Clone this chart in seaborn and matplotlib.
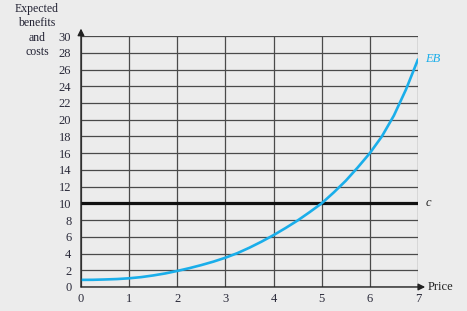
import numpy as np
import pandas as pd
import seaborn as sns
import matplotlib
matplotlib.use("Agg")
import matplotlib.pyplot as plt

# Data
price = [0, 0.25, 0.5, 0.75, 1, 1.25, 1.5, 1.75, 2, 2.25, 2.5, 2.75, 3, 3.25, 3.5,
         3.75, 4, 4.25, 4.5, 4.75, 5, 5.25, 5.5, 5.75, 6, 6.25, 6.5, 6.75, 7]
eb = [0.85, 0.86, 0.9, 0.95, 1.04, 1.18, 1.38, 1.62, 1.92, 2.25, 2.62, 3.03, 3.5, 4.05, 4.7,
      5.42, 6.2, 7.05, 7.95, 8.95, 10.0, 11.3, 12.7, 14.3, 16.0, 18.0, 20.5, 23.6, 27.2]
cost = 10
x_ticks = [0, 1, 2, 3, 4, 5, 6, 7]
y_ticks = list(range(0, 31, 2))

sns.set_style("white")
plt.rcParams['font.family'] = ['Liberation Serif', 'DejaVu Serif']

bg = '#ececec'
fig = plt.figure(figsize=(4.67, 3.11), dpi=100, facecolor=bg)
ax = fig.add_axes([0.1734, 0.0772, 0.7216, 0.8068])
ax.set_facecolor(bg)

df = pd.DataFrame({'Price': price, 'EB': eb})

# grid
for xv in x_ticks:
    ax.axvline(xv, color='#4a4a4a', lw=0.9, zorder=1)
for yv in y_ticks:
    ax.axhline(yv, color='#4a4a4a', lw=0.9, zorder=1)

ax.axhline(cost, color='#111111', lw=2.3, zorder=3)
sns.lineplot(data=df, x='Price', y='EB', ax=ax, color='#1aaeea', lw=1.9, zorder=4)

ax.set_xlim(0, 7)
ax.set_ylim(0, 30)
ax.set_xticks(x_ticks)
ax.set_yticks(y_ticks)
ax.set_xticklabels([str(v) for v in x_ticks], fontsize=9, color='#2a2a3a')
ax.set_yticklabels([str(v) for v in y_ticks], fontsize=9, color='#2a2a3a')
ax.tick_params(axis='y', length=6, width=0.9, color='#4a4a4a', pad=1)
ax.tick_params(axis='x', length=0, pad=4)
ax.set_xlabel('')
ax.set_ylabel('')
for s in ax.spines.values():
    s.set_visible(False)

# axis arrows
ax.annotate('', xy=(0, 30.9), xytext=(0, 0), xycoords='data',
            arrowprops=dict(arrowstyle='-|>', color='#222222', lw=1.0,
                            mutation_scale=10, shrinkA=0, shrinkB=0),
            annotation_clip=False, zorder=5)
ax.annotate('', xy=(7.15, 0), xytext=(0, 0), xycoords='data',
            arrowprops=dict(arrowstyle='-|>', color='#222222', lw=1.0,
                            mutation_scale=10, shrinkA=0, shrinkB=0),
            annotation_clip=False, zorder=5)

ax.text(7.2, 0, 'Price', fontsize=9, va='center', ha='left', color='#222222', clip_on=False)
ax.text(7.15, 27.2, 'EB', fontsize=9, style='italic', color='#1aaeea', va='center', ha='left', clip_on=False)
ax.text(7.15, 10, 'c', fontsize=9, style='italic', color='#222222', va='center', ha='left', clip_on=False)

fig.text(0.079, 0.99, 'Expected\nbenefits\nand\ncosts', fontsize=8.5, ha='center', va='top',
         color='#222233', linespacing=1.25)

fig.savefig('out.png', dpi=100, facecolor=bg)
